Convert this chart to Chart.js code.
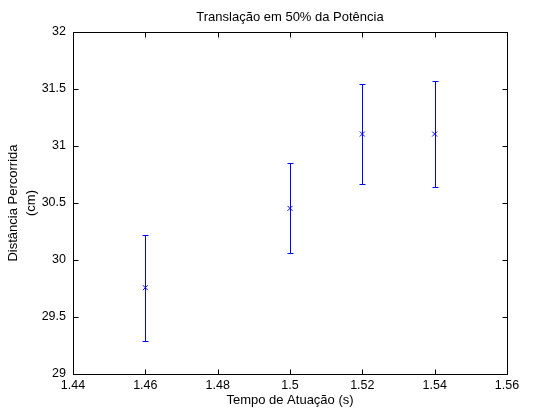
<!DOCTYPE html>
<html>
<head>
<meta charset="utf-8">
<script src="https://cdn.jsdelivr.net/npm/chart.js@4/dist/chart.umd.min.js"></script>
<style>
  html, body { margin: 0; padding: 0; background: #fff; }
  #chart { display: block; }
</style>
</head>
<body>
<canvas id="chart" width="560" height="420"></canvas>
<script>
// values
const tempos = [1.46, 1.5, 1.52, 1.54];
const distancias = [29.757, 30.453, 31.105, 31.105];
const erros = [0.465, 0.394, 0.438, 0.469];

const xTickLabels = ["1.44", "1.46", "1.48", "1.5", "1.52", "1.54", "1.56"];
const yTickLabels = ["29", "29.5", "30", "30.5", "31", "31.5", "32"];

const titulo = "Translação em 50% da Potência";
const xTitulo = "Tempo de Atuação (s)";
const yTitulo = ["Distância Percorrida", "(cm)"];

const FONT = "Arial, 'Liberation Sans', Helvetica, sans-serif";
const blue = "#0000ff";

// error bars drawn with the chart's own scales
const errorBars = {
  id: "errorBars",
  beforeDatasetsDraw(chart) {
    const { ctx, scales: { x, y } } = chart;
    ctx.save();
    ctx.strokeStyle = blue;
    ctx.lineWidth = 1;
    tempos.forEach((t, i) => {
      const px = Math.round(x.getPixelForValue(t)) + 0.5;
      const top = Math.round(y.getPixelForValue(distancias[i] + erros[i])) + 0.5;
      const bot = Math.round(y.getPixelForValue(distancias[i] - erros[i])) + 0.5;
      ctx.beginPath();
      ctx.moveTo(px, top);
      ctx.lineTo(px, bot);
      ctx.moveTo(px - 3, top);
      ctx.lineTo(px + 3, top);
      ctx.moveTo(px - 3, bot);
      ctx.lineTo(px + 3, bot);
      ctx.stroke();
    });
    ctx.restore();
  },
};

// matlab style box with inward ticks on all four sides
const boxAxes = {
  id: "boxAxes",
  afterDraw(chart) {
    const { ctx, chartArea: a, scales: { x, y } } = chart;
    const L = Math.round(a.left) + 0.5, R = Math.round(a.right) + 0.5;
    const T = Math.round(a.top) + 0.5, B = Math.round(a.bottom) + 0.5;
    const len = 5;
    ctx.save();
    ctx.strokeStyle = "#000";
    ctx.lineWidth = 1;
    ctx.beginPath();
    ctx.rect(L, T, R - L, B - T);
    x.ticks.forEach((tk) => {
      const px = Math.round(x.getPixelForValue(tk.value)) + 0.5;
      ctx.moveTo(px, B); ctx.lineTo(px, B - len);
      ctx.moveTo(px, T); ctx.lineTo(px, T + len);
    });
    y.ticks.forEach((tk) => {
      const py = Math.round(y.getPixelForValue(tk.value)) + 0.5;
      ctx.moveTo(L, py); ctx.lineTo(L + len, py);
      ctx.moveTo(R, py); ctx.lineTo(R - len, py);
    });
    ctx.stroke();
    ctx.restore();
  },
};

new Chart(document.getElementById("chart"), {
  type: "scatter",
  data: {
    datasets: [
      {
        data: tempos.map((t, i) => ({ x: t, y: distancias[i] })),
        pointStyle: "crossRot",
        pointRadius: 3.5,
        pointHoverRadius: 3.5,
        borderColor: blue,
        backgroundColor: blue,
        borderWidth: 1,
        showLine: false,
      },
    ],
  },
  options: {
    responsive: false,
    animation: false,
    events: [],
    layout: { padding: { top: 0, right: 53, bottom: 0, left: 0 } },
    plugins: {
      legend: { display: false },
      tooltip: { enabled: false },
      title: {
        display: true,
        text: titulo,
        fullSize: false,
        color: "#000",
        font: { family: FONT, size: 13, weight: "normal" },
        padding: { top: 9.2, bottom: 7.2 },
      },
    },
    scales: {
      x: {
        type: "linear",
        min: 1.44,
        max: 1.56,
        afterBuildTicks: (s) => { s.ticks = xTickLabels.map((l) => ({ value: parseFloat(l) })); },
        afterFit: (s) => { s.height = 46; },
        grid: { display: false, drawTicks: false },
        border: { display: false },
        ticks: {
          padding: 4,
          color: "#000",
          maxRotation: 0,
          font: { family: FONT, size: 12.5 },
          callback: (v, i) => xTickLabels[i],
        },
        title: {
          display: true,
          text: xTitulo,
          color: "#000",
          font: { family: FONT, size: 13 },
          padding: { top: 0, bottom: 11.5 },
        },
      },
      y: {
        type: "linear",
        min: 29,
        max: 32,
        afterBuildTicks: (s) => { s.ticks = yTickLabels.map((l) => ({ value: parseFloat(l) })); },
        afterFit: (s) => { s.width = 73; },
        grid: { display: false, drawTicks: false },
        border: { display: false },
        ticks: {
          padding: 7,
          color: "#000",
          font: { family: FONT, size: 12.5 },
          callback: (v, i) => yTickLabels[i],
        },
        title: {
          display: true,
          text: yTitulo,
          color: "#000",
          font: { family: FONT, size: 13, lineHeight: 1.4 },
          padding: { top: 4.2, bottom: 0 },
        },
      },
    },
  },
  plugins: [errorBars, boxAxes],
});
</script>
</body>
</html>
